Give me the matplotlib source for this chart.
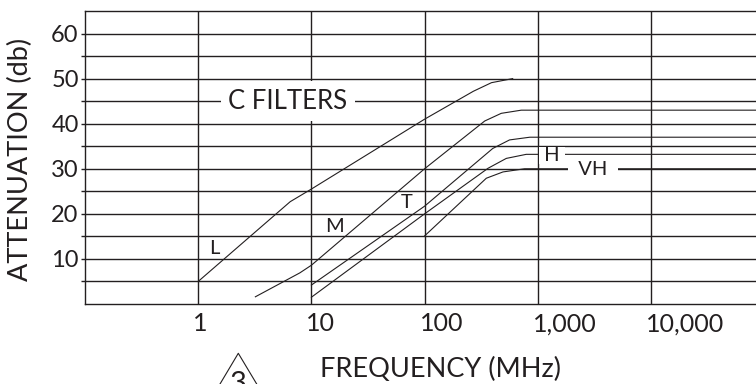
import matplotlib
matplotlib.use('Agg')
import matplotlib.pyplot as plt
import matplotlib.transforms as mtransforms
from matplotlib.ticker import FixedLocator, FixedFormatter, NullLocator
from matplotlib.lines import Line2D

plt.rcParams['font.family'] = ['Lato', 'DejaVu Sans']

INK = '#231f20'
X_MIN, X_MAX = 0.1, 84700
Y_MIN, Y_MAX = 0, 65

freq_ticks = [1, 10, 100, 1000, 10000]
freq_labels = ['1', '10', '100', '1,000', '10,000']
att_ticks = [10, 20, 30, 40, 50, 60]
att_minor = [5, 15, 25, 35, 45, 55]

# filter curves (frequency MHz, attenuation dB)
L_x = [1, 6.5, 10, 100, 270, 390, 600]
L_y = [5, 22.7, 25.5, 41, 47.2, 49.1, 50]
M_x = [3.2, 7.9, 10, 100, 340, 476, 715, X_MAX]
M_y = [1.6, 6.9, 8.6, 30, 40.6, 42.3, 43, 43]
T_x = [10, 100, 400, 563, 850, X_MAX]
T_y = [4.2, 21.7, 34.5, 36.4, 37, 37]
H_x = [10, 100, 363, 527, 790, X_MAX]
H_y = [1.5, 20, 30.1, 32.3, 33.2, 33.2]
VH_x = [100, 351, 493, 765, X_MAX]
VH_y = [15.1, 27.9, 29.3, 30, 30]

curve_names = ['L', 'M', 'T', 'H', 'VH']
name_x = [1.4, 16, 70, 1330, 3060]
name_y = [12.4, 17.1, 22.6, 33.0, 29.8]

title_text = 'C FILTERS'
title_x, title_y = 6.2, 45

fig = plt.figure(figsize=(7.56, 3.84), dpi=100)
ax = fig.add_axes([85 / 756, 80 / 384, 671 / 756, 293 / 384])
ax.set_xscale('log')
ax.set_xlim(X_MIN, X_MAX)
ax.set_ylim(Y_MIN, Y_MAX)

ax.xaxis.set_major_locator(FixedLocator(freq_ticks))
ax.xaxis.set_major_formatter(FixedFormatter(freq_labels))
ax.xaxis.set_minor_locator(NullLocator())
ax.yaxis.set_major_locator(FixedLocator(att_ticks))
ax.yaxis.set_minor_locator(FixedLocator(att_minor))

ax.tick_params(axis='x', which='both', length=0, pad=6, labelsize=18, labelcolor=INK)
ax.tick_params(axis='y', which='both', length=3, width=1.0, color=INK, pad=1.5,
               labelsize=17, labelcolor=INK, direction='out')

# x tick labels sit left-aligned, starting just left of their grid line
shift = mtransforms.ScaledTranslation(-5 / 100, 0, fig.dpi_scale_trans)
for lab in ax.get_xticklabels():
    lab.set_horizontalalignment('left')
    lab.set_transform(lab.get_transform() + shift)

ax.grid(True, axis='x', which='major', color=INK, lw=1.0)
ax.grid(True, axis='y', which='both', color=INK, lw=1.0)
for gl in ax.get_xgridlines() + ax.get_ygridlines():
    gl.set_zorder(2.5)
for gl in ax.yaxis.get_minorticklines():
    pass
for s in ['left', 'bottom', 'top']:
    ax.spines[s].set_color(INK)
    ax.spines[s].set_linewidth(1.0)
ax.spines['right'].set_visible(False)

for xs, ys in [(L_x, L_y), (M_x, M_y), (T_x, T_y), (H_x, H_y), (VH_x, VH_y)]:
    ax.plot(xs, ys, color=INK, lw=0.8, zorder=2, solid_joinstyle='round')

for name, x, y in zip(curve_names, name_x, name_y):
    if name in ('H', 'VH'):
        label = (' ' + name + ' ') if name == 'H' else ('  ' + name + '  ')
        ax.text(x, y, label, fontsize=14.5, color=INK, ha='center', va='center',
                zorder=2.2 if name == 'H' else 3,
                bbox=dict(boxstyle='square,pad=0', facecolor='white', edgecolor='none'))
    else:
        ax.text(x, y, name, fontsize=14.5, color=INK, ha='center', va='center', zorder=3)

ax.text(title_x, title_y, title_text, fontsize=18.5, color=INK, ha='center', va='center',
        zorder=3, bbox=dict(boxstyle='square,pad=0.3', facecolor='white', edgecolor='none'))

fig.text(20 / 756, 1 - 159 / 384, 'ATTENUATION (db)', rotation=90, fontsize=19.5,
         color=INK, ha='center', va='center')
fig.text(440 / 756, 1 - 369 / 384, 'FREQUENCY (MHz)', fontsize=19.5, color=INK,
         ha='center', va='center')

# revision triangle marker
tri_x = [220 / 756, 238.3 / 756, 256.7 / 756]
tri_y = [1 - 384 / 384, 1 - 353.3 / 384, 1 - 384 / 384]
fig.add_artist(Line2D(tri_x, tri_y, color=INK, lw=0.8, transform=fig.transFigure))
fig.text(238.3 / 756, 1 - 392 / 384, '3', fontsize=21, color=INK, ha='center', va='baseline')

fig.savefig('out.png', dpi=100)
